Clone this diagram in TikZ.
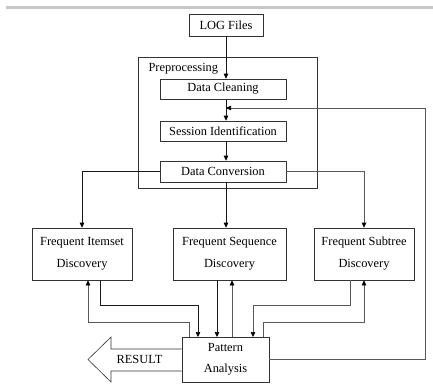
\documentclass[tikz,border=0pt]{standalone}
\usepackage{fontspec}
\setmainfont{Liberation Serif}
\usetikzlibrary{arrows.meta}
\begin{document}
\begin{tikzpicture}[x=1pt,y=-1pt,
    font=\fontsize{12.4}{14}\selectfont,
    box/.style={draw=black!80, line width=0.6pt, rectangle, inner sep=0pt, align=center},
    link/.style={line width=0.6pt, draw=black!90, -{Triangle[length=5pt,width=4.5pt,color=black]}},
    glink/.style={link, draw=black!65}]

      \useasboundingbox (0,0) rectangle (433,383);
      \fill[black!22] (6,6) rectangle (433,9);

      \begin{scope}[every node/.style={box}]
        \node (log)  at (226,25)    [minimum width=74, minimum height=22] {LOG Files};
        \node (prep) at (227.5,122.5) [minimum width=179, minimum height=131] {};
        \node (clean) at (223,89)   [minimum width=126, minimum height=20] {Data Cleaning};
        \node (sess) at (223,131)   [minimum width=126, minimum height=20] {Session Identification};
        \node (conv) at (223,171.5) [minimum width=126, minimum height=21] {Data Conversion};
        \node (fi)   at (82,254)    [minimum width=100, minimum height=52] {Frequent Itemset\\[8pt]Discovery};
        \node (fseq) at (229.5,254) [minimum width=113, minimum height=52] {Frequent Sequence\\[8pt]Discovery};
        \node (fsub) at (364,254)   [minimum width=100, minimum height=52] {Frequent Subtree\\[8pt]Discovery};
        \node (pa)   at (225.5,359.5) [minimum width=87, minimum height=45] {Pattern\\[7pt]Analysis};
      \end{scope}

      \node (preplbl) at (145,69) [anchor=west] {Preprocessing};

      \draw[draw=black!80, line width=0.6pt]
        (pa.west |- 0,349) -- (111,349) -- (111,337) -- (88,359.5)
        -- (111,382) -- (111,371) -- (pa.west |- 0,371);
      \node (result) at (139.5,359) {RESULT};

      \coordinate (l1) at (100,305);
      \coordinate (l2) at (88,322);
      \coordinate (l3) at (350,305);
      \coordinate (l4) at (364,322);
      \coordinate (p1) at (189,337);
      \coordinate (p2) at (198,337);
      \coordinate (p3) at (217,337);
      \coordinate (p4) at (232,337);
      \coordinate (p5) at (253,337);
      \coordinate (p6) at (263,337);
      \coordinate (back) at (425,108);

      \draw[link]  (log.south) -- (log.south |- clean.north);
      \draw[link]  (clean.south -| log) -- (sess.north -| log);
      \draw[link]  (sess.south -| log) -- (conv.north -| log);

      \draw[link]  (conv.west) -| (fi.north);
      \draw[link]  (conv.south -| log) -- (fseq.north -| log);
      \draw[glink] (conv.east) -| (fsub.north);

      \draw[link]  (fi.south -| l1) -- (l1) -| (p2);
      \draw[glink,{Triangle[length=5pt,width=4.5pt,color=black]}-] (fi.south -| l2) -- (l2) -| (p1);
      \draw[link]  (fseq.south -| p3) -- (p3);
      \draw[glink,{Triangle[length=5pt,width=4.5pt,color=black]}-] (fseq.south -| p4) -- (p4);
      \draw[glink] (fsub.south -| l3) -- (l3) -| (p5);
      \draw[glink,{Triangle[length=5pt,width=4.5pt,color=black]}-] (fsub.south -| l4) -- (l4) -| (p6);

      \draw[glink] (pa.east) -| (back) -- (back -| log);

    \end{tikzpicture}
\end{document}
